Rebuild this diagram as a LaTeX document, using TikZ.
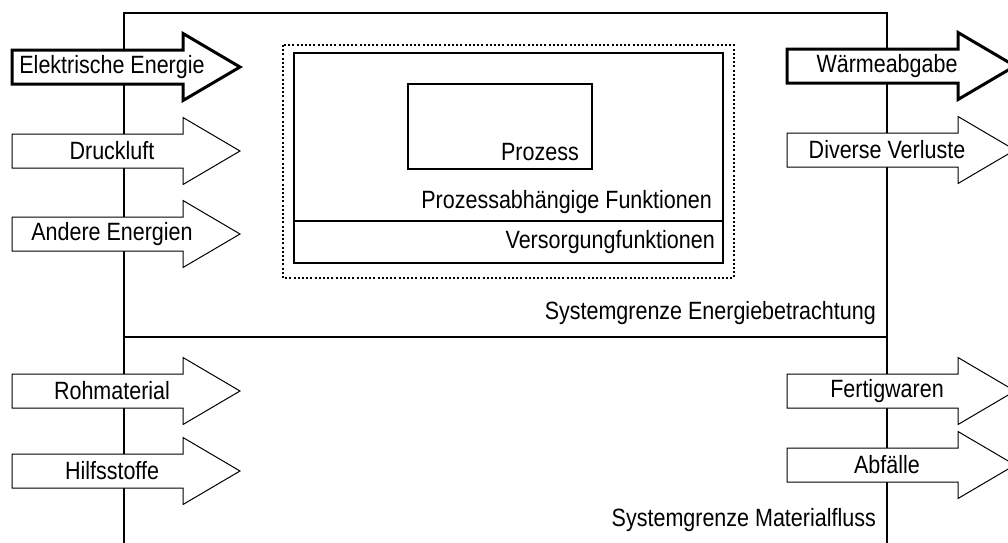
\documentclass[tikz,border=0pt]{standalone}
\usepackage{fontspec}
\setmainfont{Liberation Sans}[FakeStretch=0.86]
\begin{document}
\begin{tikzpicture}[x=1pt,y=-1pt,
  frame/.style={line width=2.4pt},
  thinarrow/.style={draw,fill=white,line width=1pt,line join=miter},
  thickarrow/.style={draw,fill=white,line width=3pt,line join=miter},
  lbl/.style={inner sep=0pt,font=\fontsize{25}{29}\selectfont},
  boxline/.style={line width=2.4pt}]
\useasboundingbox (0,0) rectangle (1008,542);
\fill[white] (0,0) rectangle (1008,542);
% frames
\draw[frame] (124,545) -- (124,13) -- (887,13) -- (887,545);
\draw[frame] (124,337) -- (887,337);
% arrows
\newcommand\flowarrow[5]{%
  \draw[#5] (#2,#3-17) -- (#2+171,#3-17) -- (#2+171,#3-33.5) -- (#2+228,#3)
    -- (#2+171,#3+33.5) -- (#2+171,#3+17) -- (#2,#3+17) -- cycle;
  \node[lbl] (#1) at (#2+100,#3) {#4};}
\flowarrow{elek}{12}{67}{Elektrische Energie}{thickarrow}
\flowarrow{druck}{12}{151}{Druckluft}{thinarrow}
\flowarrow{andere}{12}{234}{Andere Energien}{thinarrow}
\flowarrow{roh}{12}{391}{Rohmaterial}{thinarrow}
\flowarrow{hilf}{12}{471}{Hilfsstoffe}{thinarrow}
\flowarrow{waerme}{787}{66}{Wärmeabgabe}{thickarrow}
\flowarrow{verl}{787}{150}{Diverse Verluste}{thinarrow}
\flowarrow{fertig}{787}{391}{Fertigwaren}{thinarrow}
\flowarrow{abf}{787}{465}{Abfälle}{thinarrow}
% process area
\draw[line width=2pt,dash pattern=on 2pt off 2.2pt] (283,45) rectangle (734,278);
\draw[boxline] (294,53) rectangle (723,263);
\draw[boxline] (294,221) -- (723,221);
\draw[line width=2pt] (408,84) rectangle (592,169);
\node[lbl,anchor=east] (proz) at (579,152) {Prozess};
\node[lbl,anchor=east] (pabh) at (712,202) {Prozessabhängige Funktionen};
\node[lbl,anchor=east] (vers) at (715,242) {Versorgungfunktionen};
\node[lbl,anchor=east] (seb) at (876,313) {Systemgrenze Energiebetrachtung};
\node[lbl,anchor=east] (smf) at (876,520) {Systemgrenze Materialfluss};
\end{tikzpicture}
\end{document}
